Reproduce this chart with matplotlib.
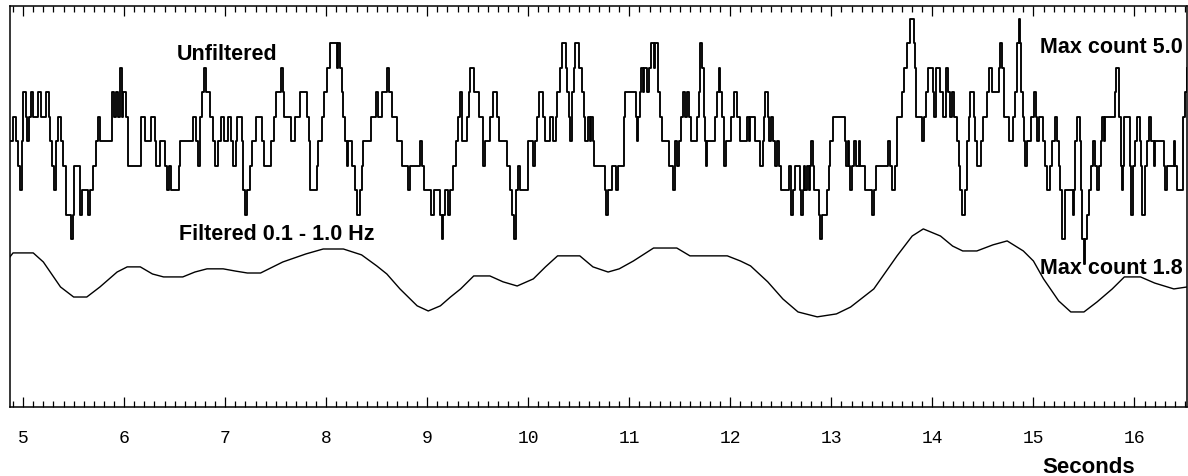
import matplotlib.pyplot as plt
from matplotlib.ticker import MultipleLocator

# Unfiltered count trace: time (s) of each step change and the level it steps to.
# One level = 0.5 count, so level 10 is the "Max count 5.0" line.
raw_t = [
    4.87, 4.90, 4.93, 4.95, 4.97, 4.99, 5.00, 5.03, 5.04, 5.06, 5.08, 5.10, 5.15, 5.18,
    5.23, 5.26, 5.27, 5.29, 5.31, 5.33, 5.35, 5.37, 5.39, 5.42, 5.47, 5.49, 5.50, 5.56,
    5.58, 5.64, 5.66, 5.69, 5.72, 5.74, 5.76, 5.88, 5.90, 5.92, 5.94, 5.96, 5.98, 5.99,
    6.02, 6.04, 6.17, 6.21, 6.27, 6.31, 6.32, 6.35, 6.40, 6.42, 6.44, 6.46, 6.54, 6.55,
    6.68, 6.71, 6.73, 6.75, 6.77, 6.79, 6.81, 6.85, 6.875, 6.90, 6.93, 6.96, 6.99, 7.03,
    7.06, 7.08, 7.11, 7.12, 7.17, 7.18, 7.20, 7.22, 7.25, 7.27, 7.30, 7.36, 7.38, 7.455,
    7.48, 7.50, 7.55, 7.57, 7.58, 7.65, 7.69, 7.74, 7.81, 7.825, 7.84, 7.91, 7.92, 7.96,
    7.98, 8.01, 8.04, 8.11, 8.12, 8.14, 8.155, 8.17, 8.19, 8.205, 8.22, 8.255, 8.28, 8.30,
    8.33, 8.35, 8.36, 8.445, 8.49, 8.51, 8.55, 8.60, 8.625, 8.65, 8.70, 8.75, 8.81, 8.83,
    8.925, 8.95, 8.965, 9.04, 9.065, 9.13, 9.145, 9.16, 9.18, 9.205, 9.23, 9.255, 9.28,
    9.30, 9.32, 9.34, 9.39, 9.41, 9.425, 9.465, 9.51, 9.55, 9.575, 9.625, 9.655, 9.69,
    9.71, 9.79, 9.815, 9.84, 9.855, 9.88, 9.895, 9.915, 10.00, 10.05, 10.07, 10.09, 10.11,
    10.145, 10.17, 10.21, 10.245, 10.27, 10.285, 10.31, 10.335, 10.37, 10.38, 10.40,
    10.415, 10.43, 10.45, 10.465, 10.50, 10.53, 10.55, 10.565, 10.59, 10.61, 10.62, 10.64,
    10.655, 10.76, 10.77, 10.79, 10.83, 10.87, 10.89, 10.945, 10.96, 11.065, 11.075,
    11.09, 11.11, 11.12, 11.135, 11.15, 11.175, 11.19, 11.21, 11.24, 11.257, 11.283,
    11.306, 11.32, 11.395, 11.43, 11.45, 11.47, 11.495, 11.515, 11.53, 11.555, 11.57,
    11.594, 11.613, 11.67, 11.686, 11.703, 11.72, 11.735, 11.745, 11.76, 11.77, 11.85,
    11.868, 11.885, 11.90, 11.917, 11.934, 11.957, 12.01, 12.033, 12.066, 12.10, 12.165,
    12.18, 12.198, 12.247, 12.297, 12.32, 12.33, 12.346, 12.373, 12.386, 12.405, 12.42,
    12.44, 12.462, 12.485, 12.505, 12.584, 12.60, 12.62, 12.64, 12.686, 12.70, 12.72,
    12.733, 12.743, 12.76, 12.775, 12.785, 12.80, 12.818, 12.83, 12.875, 12.891, 12.907,
    12.957, 12.974, 12.99, 13.016, 13.13, 13.148, 13.162, 13.178, 13.188, 13.208, 13.228,
    13.247, 13.27, 13.287, 13.337, 13.40, 13.419, 13.445, 13.558, 13.577, 13.60, 13.634,
    13.65, 13.70, 13.716, 13.749, 13.782, 13.815, 13.832, 13.842, 13.898, 13.92, 13.94,
    13.954, 14.007, 14.02, 14.036, 14.08, 14.105, 14.13, 14.15, 14.178, 14.195, 14.21,
    14.244, 14.26, 14.277, 14.294, 14.327, 14.343, 14.36, 14.376, 14.41, 14.426, 14.442,
    14.482, 14.50, 14.54, 14.558, 14.59, 14.657, 14.673, 14.69, 14.707, 14.763, 14.795,
    14.822, 14.838, 14.855, 14.87, 14.88, 14.895, 14.905, 14.914, 14.938, 14.98, 15.004,
    15.027, 15.037, 15.053, 15.093, 15.112, 15.135, 15.168, 15.185, 15.21, 15.235, 15.251,
    15.267, 15.284, 15.31, 15.39, 15.40, 15.416, 15.432, 15.456, 15.466, 15.482, 15.499,
    15.515, 15.532, 15.548, 15.565, 15.588, 15.614, 15.63, 15.647, 15.664, 15.68, 15.697,
    15.713, 15.806, 15.822, 15.845, 15.862, 15.872, 15.885, 15.895, 15.951, 15.967,
    15.984, 16.004, 16.027, 16.05, 16.06, 16.076, 16.10, 16.126, 16.142, 16.159, 16.192,
    16.208, 16.29, 16.307, 16.324, 16.39, 16.406, 16.423, 16.479, 16.50, 16.52,
]
raw_level = [
    5, 6, 5, 4, 3, 5, 7, 6, 5, 6, 7, 6, 7, 6,
    7, 6, 5, 4, 3, 5, 6, 5, 4, 2, 1, 2, 4, 2,
    3, 2, 3, 4, 5, 6, 5, 7, 6, 7, 6, 8, 6, 7,
    6, 4, 6, 5, 6, 5, 4, 5, 4, 3, 4, 3, 4, 5,
    6, 5, 4, 6, 7, 8, 7, 6, 5, 4, 5, 6, 5, 6,
    5, 4, 5, 6, 5, 3, 2, 3, 4, 5, 6, 5, 4, 5,
    6, 7, 8, 7, 6, 5, 6, 7, 6, 5, 3, 4, 5, 6,
    7, 8, 9, 8, 9, 8, 7, 6, 5, 4, 5, 4, 3, 2,
    3, 4, 5, 6, 7, 6, 7, 8, 7, 6, 5, 4, 3, 4,
    5, 4, 3, 2, 3, 2, 1, 2, 3, 2, 3, 4, 5,
    6, 7, 5, 6, 7, 8, 7, 6, 4, 5, 6, 7, 6,
    5, 4, 3, 2, 1, 3, 4, 3, 5, 4, 5, 6, 7,
    6, 5, 6, 5, 6, 7, 8, 9, 8, 7, 6,
    5, 7, 8, 9, 8, 7, 6, 5, 6, 5, 6, 5,
    4, 3, 2, 3, 4, 3, 4, 6, 7, 6, 5,
    6, 7, 8, 7, 8, 7, 8, 9, 8, 9, 7,
    6, 5, 4, 3, 5, 4, 5, 6, 7, 6, 7,
    6, 5, 6, 7, 9, 8, 6, 5, 4, 5, 6,
    7, 8, 7, 6, 4, 5, 6, 7, 6, 5, 6,
    5, 6, 5, 4, 5, 6, 7, 6, 5, 6, 5,
    4, 5, 4, 3, 4, 2, 3, 4, 3, 2, 3,
    4, 3, 4, 3, 4, 5, 4, 3, 2, 1, 2,
    3, 4, 5, 6, 5, 4, 5, 4, 3, 4, 5,
    4, 5, 4, 3, 2, 3, 4, 5, 4, 3, 4,
    6, 7, 8, 9, 10, 9, 8, 6, 5, 6, 7,
    8, 7, 6, 8, 7, 6, 8, 7, 6, 7, 6,
    5, 4, 3, 2, 3, 5, 6, 7, 6, 5, 4,
    5, 6, 7, 8, 7, 8, 9, 8, 6, 5, 6,
    7, 9, 10, 9, 7, 6, 5, 4, 5, 6, 7,
    6, 5, 6, 5, 4, 3, 4, 5, 6, 5, 4,
    3, 1, 3, 2, 3, 5, 6, 5, 3, 1, 0,
    1, 2, 3, 4, 5, 4, 3, 4, 5, 6, 5,
    6, 7, 8, 6, 4, 3, 4, 6, 4, 2,
    4, 5, 6, 5, 4, 2, 4, 5, 6, 5, 4,
    5, 4, 3, 4, 5, 4, 3, 6, 7, 8,
]

# Band-pass filtered trace (0.1 - 1.0 Hz), drawn offset below, same level units
filt_t = [
    4.87, 4.90, 5.10, 5.20, 5.37, 5.50, 5.63, 5.76, 5.93, 6.03, 6.16, 6.28, 6.39, 6.58,
    6.70, 6.82, 6.98, 7.10, 7.22, 7.35, 7.57, 7.80, 7.97, 8.17, 8.35, 8.50, 8.60, 8.73,
    8.90, 9.01, 9.13, 9.23, 9.33, 9.46, 9.62, 9.75, 9.89, 10.05, 10.17, 10.29, 10.51,
    10.64, 10.79, 10.90, 11.04, 11.24, 11.47, 11.60, 11.97, 12.10, 12.20, 12.37, 12.52,
    12.67, 12.86, 13.05, 13.19, 13.42, 13.65, 13.80, 13.91, 14.08, 14.20, 14.30, 14.44,
    14.60, 14.74, 14.90, 15.00, 15.10, 15.25, 15.37, 15.50, 15.63, 15.78, 15.90, 16.06,
    16.20, 16.39, 16.52,
]
filt_level = [
    0.29, 0.45, 0.45, 0.08, -0.94, -1.35, -1.35, -0.94, -0.33, -0.12, -0.12, -0.41, -0.53, -0.53,
    -0.33, -0.20, -0.20, -0.29, -0.37, -0.37, 0.08, 0.41, 0.61, 0.61, 0.37, -0.08, -0.41, -1.02,
    -1.71, -1.92, -1.71, -1.35, -1.02, -0.49, -0.49, -0.73, -0.90, -0.61, -0.12, 0.33, 0.33,
    -0.12, -0.33, -0.20, 0.12, 0.65, 0.65, 0.33, 0.33, 0.12, -0.08, -0.73, -1.43,
    -1.96, -2.16, -2.04, -1.76, -1.02, 0.33, 1.14, 1.43, 1.14, 0.73, 0.53, 0.53,
    0.78, 0.94, 0.53, 0.12, -0.61, -1.51, -1.96, -1.96, -1.55, -1.02, -0.53, -0.53,
    -0.78, -1.02, -0.94,
]

tick_seconds = list(range(5, 17))

LABEL_FONT = ["Liberation Sans", "DejaVu Sans"]
TICK_FONT = ["Liberation Mono", "DejaVu Sans Mono"]

fig = plt.figure(figsize=(11.88, 4.77), dpi=100)
ax = fig.add_axes([10 / 1188, 69 / 477, 1177 / 1188, 401 / 477])

ax.step(raw_t, raw_level, where="post", color="black", lw=1.35)
ax.plot(filt_t, filt_level, color="black", lw=1.0)

ax.set_xlim(4.87, 16.52)
ax.set_ylim(-5.84, 10.53)
ax.set_yticks([])
ax.set_xticks(tick_seconds)
ax.set_xticklabels([str(s) for s in tick_seconds], family=TICK_FONT, fontsize=13)
ax.xaxis.set_minor_locator(MultipleLocator(0.1))
ax.tick_params(axis="x", which="both", direction="in", top=True, bottom=True,
               width=0.9, color="black")
ax.tick_params(axis="x", which="major", length=7.5, pad=16)
ax.tick_params(axis="x", which="minor", length=4)
for spine in ax.spines.values():
    spine.set_linewidth(1.1)

label_kw = dict(family=LABEL_FONT, fontweight="bold", fontsize=15.5, va="baseline")
ax.text(7.02, 8.37, "Unfiltered", ha="center", **label_kw)
ax.text(7.515, 1.02, "Filtered 0.1 - 1.0 Hz", ha="center", **label_kw)
ax.text(16.475, 8.66, "Max count 5.0", ha="right", **label_kw)
ax.text(16.475, -0.37, "Max count 1.8", ha="right", **label_kw)
ax.text(15.545, -8.49, "Seconds", ha="center", family=LABEL_FONT,
        fontweight="bold", fontsize=16, va="baseline")

fig.savefig("out.png", dpi=100)
